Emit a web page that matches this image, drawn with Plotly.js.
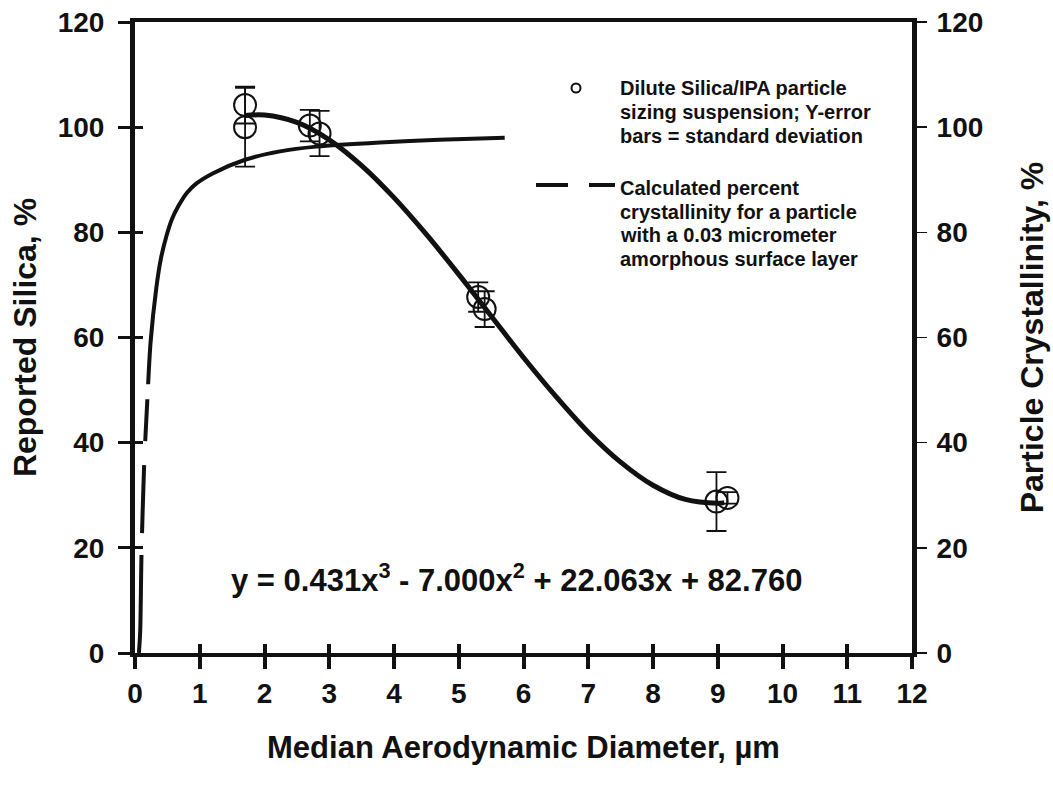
<!DOCTYPE html>
<html>
<head>
<meta charset="utf-8">
<script src="https://cdn.plot.ly/plotly-3.0.1.min.js"></script>
<style>html,body{margin:0;padding:0;background:#fff;}#chart{width:1053px;height:788px;}</style>
</head>
<body>
<div id="chart"></div>
<script>
// Measured data: dilute Silica/IPA suspension (reported silica, %) with standard deviations
const sampleDiameter = [1.7, 1.7, 2.7, 2.85, 5.3, 5.4, 8.98, 9.15];
const reportedSilica = [104.2, 100.0, 100.3, 98.8, 67.7, 65.4, 28.8, 29.5];
const silicaStdDev   = [3.5, 7.5, 3.0, 4.3, 2.8, 3.4, 5.6, 1.1];

// Cubic trend line
const fitDiameter = [1.7, 2.0, 2.5, 3.0, 3.5, 4.0, 4.5, 5.0, 5.5, 6.0, 6.5, 7.0, 7.5, 8.0, 8.5, 9.0, 9.1];
const fitSilica   = [102.2, 102.3, 100.9, 97.6, 92.7, 86.6, 79.6, 72.0, 64.1, 56.2, 48.8, 42.0, 36.3, 31.9, 29.2, 28.5, 28.6];

// Calculated crystallinity (0.03 micrometer amorphous layer), right axis
const crystDiameter = [0.06, 0.08, 0.10, 0.14, 0.19, 0.24, 0.33, 0.40, 0.49, 0.57, 0.67, 0.80, 0.95, 1.2, 1.7, 2.24, 2.8, 3.78, 4.7, 5.71];
const crystPercent  = [0, 4, 18.6, 35.4, 48, 59, 69.5, 75, 79.5, 82.5, 85, 87.5, 89.3, 91.2, 93.8, 95.4, 96.3, 97.1, 97.6, 98];

const xTicks = [0,1,2,3,4,5,6,7,8,9,10,11,12];
const yTicks = [0,20,40,60,80,100,120];

const FONT = '"Liberation Sans", Arial, sans-serif';
const tickFont = {family: FONT, size: 28, color: '#111', weight: 'bold'};

const traces = [
  {
    x: crystDiameter, y: crystPercent, xaxis: 'x', yaxis: 'y2',
    type: 'scatter', mode: 'lines',
    line: {color: '#111', width: 4, shape: 'spline', smoothing: 0.8, dash: '98px,22px,68px,24px,42px,15px,3000px'},
    showlegend: false
  },
  {
    x: fitDiameter, y: fitSilica, xaxis: 'x2', yaxis: 'y3',
    type: 'scatter', mode: 'lines',
    line: {color: '#111', width: 5, shape: 'spline', smoothing: 1},
    showlegend: false
  },
  {
    x: sampleDiameter, y: reportedSilica, xaxis: 'x', yaxis: 'y',
    type: 'scatter', mode: 'markers',
    marker: {symbol: 'circle-open', size: 22, color: '#111', line: {width: 2, color: '#111'}},
    error_y: {type: 'data', array: silicaStdDev, visible: true, color: '#111', thickness: 1.8, width: 10},
    showlegend: false
  }
];

const legendText1 = ['Dilute Silica/IPA particle', 'sizing suspension; Y-error', 'bars = standard deviation'];
const legendText2 = ['Calculated percent', 'crystallinity for a particle', 'with a 0.03 micrometer', 'amorphous surface layer'];

const annotations = [];
// plot area: x 135..912 px, y 22..653 px
function py(p){ return (653 - p) / 631; }
function px(p){ return (p - 135) / 777; }
const legFont = {family: FONT, size: 20, color: '#111', weight: 'bold'};
legendText1.forEach((t, i) => annotations.push({
  xref: 'paper', yref: 'paper', x: px(618), y: py(88 + i * 24), xanchor: 'left', yanchor: 'middle',
  text: t, showarrow: false, font: legFont
}));
legendText2.forEach((t, i) => annotations.push({
  xref: 'paper', yref: 'paper', x: px(618), y: py(188 + i * 23.5), xanchor: 'left', yanchor: 'middle',
  text: t, showarrow: false, font: legFont
}));
annotations.push({
  xref: 'paper', yref: 'paper', x: px(516), y: py(578), xanchor: 'center', yanchor: 'middle',
  text: 'y = 0.431x<sup>3</sup> - 7.000x<sup>2</sup> + 22.063x + 82.760', showarrow: false,
  font: {family: FONT, size: 31, color: '#111', weight: 'bold'}
});

const shapes = [
  {type: 'circle', xref: 'paper', yref: 'paper', xsizemode: 'pixel', ysizemode: 'pixel',
   xanchor: px(576), yanchor: py(88), x0: -4.5, x1: 4.5, y0: -4.5, y1: 4.5,
   line: {color: '#111', width: 2}},
  {type: 'line', xref: 'paper', yref: 'paper', x0: px(536), x1: px(615), y0: py(185), y1: py(185),
   line: {color: '#111', width: 4, dash: '32px,21px,40px'}}
];

const layout = {
  width: 1053, height: 788,
  margin: {l: 135, r: 141, t: 22, b: 135, pad: 0},
  paper_bgcolor: '#fff', plot_bgcolor: '#fff',
  showlegend: false,
  font: {family: FONT, color: '#111'},
  xaxis: {
    range: [0, 12], tickvals: xTicks, ticktext: xTicks.map(String),
    showgrid: false, zeroline: false, showline: true, linewidth: 4, linecolor: '#111', mirror: true,
    ticks: 'outside', ticklen: 12, tickwidth: 4, tickcolor: '#111', ticklabelstandoff: 0,
    tickfont: tickFont,
    title: {text: 'Median Aerodynamic Diameter, \u00b5m', font: {family: FONT, size: 31, color: '#111', weight: 'bold'}, standoff: 30}
  },
  xaxis2: {
    range: [0, 12], overlaying: 'x', anchor: 'y', side: 'bottom', tickvals: xTicks,
    showticklabels: false, showgrid: false, zeroline: false, showline: false,
    ticks: 'inside', ticklen: 9, tickwidth: 4, tickcolor: '#111'
  },
  yaxis: {
    range: [0, 120], tickvals: yTicks, ticktext: yTicks.map(String),
    showgrid: false, zeroline: false, showline: true, linewidth: 5, linecolor: '#111',
    ticks: 'outside', ticklen: 12, tickwidth: 3, tickcolor: '#111', ticklabelstandoff: 8,
    tickfont: tickFont,
    title: {text: 'Reported Silica, %', font: {family: FONT, size: 32, color: '#111', weight: 'bold'}, standoff: 13}
  },
  yaxis3: {
    range: [0, 120], overlaying: 'y', anchor: 'x', side: 'left', tickvals: yTicks,
    showticklabels: false, showgrid: false, zeroline: false, showline: false,
    ticks: 'inside', ticklen: 8, tickwidth: 3, tickcolor: '#111'
  },
  yaxis2: {
    range: [0, 120], overlaying: 'y', anchor: 'x', side: 'right', tickvals: yTicks, ticktext: yTicks.map(String),
    showgrid: false, zeroline: false, showline: true, linewidth: 5, linecolor: '#111',
    ticks: 'outside', ticklen: 10, tickwidth: 1.5, tickcolor: '#111', ticklabelstandoff: 4,
    tickfont: tickFont,
    title: {text: 'Particle Crystallinity, %', font: {family: FONT, size: 32, color: '#111', weight: 'bold'}, standoff: 40}
  },
  annotations: annotations,
  shapes: shapes
};

Plotly.newPlot('chart', traces, layout, {displayModeBar: false, staticPlot: true});
</script>
</body>
</html>
